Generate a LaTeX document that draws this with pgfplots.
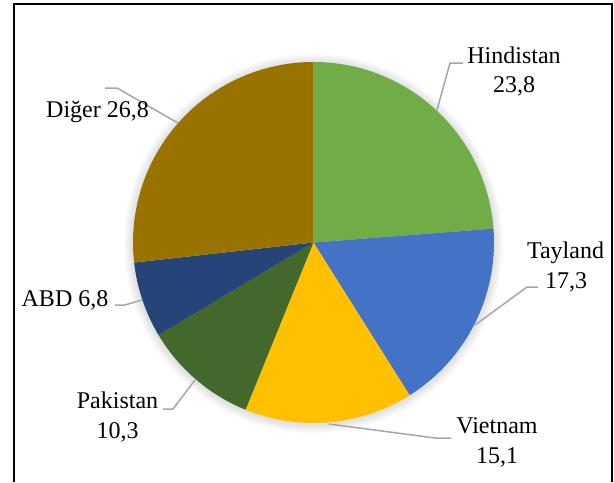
\documentclass[border=0pt]{standalone}
\usepackage{fontspec}
\setmainfont{Liberation Serif}
\usepackage{pgfplots}
\usepackage{pgfplotstable}
\pgfplotsset{compat=1.18}

\definecolor{c0}{HTML}{70AD47}
\definecolor{c1}{HTML}{4472C4}
\definecolor{c2}{HTML}{FFC000}
\definecolor{c3}{HTML}{43682B}
\definecolor{c4}{HTML}{264478}
\definecolor{c5}{HTML}{997300}
\definecolor{leader}{HTML}{A6A6A6}

% shares, clockwise from 12 o'clock
\pgfplotstableread{
label val
Hindistan 23.8
Tayland 17.3
Vietnam 15.1
Pakistan 10.3
ABD 6.8
Diger 26.8
}\pietab

\begin{document}
\begin{tikzpicture}[font=\fontsize{12}{14.4}\selectfont]
\begin{axis}[
    hide axis,
    scale only axis,
    width=307pt, height=241pt,
    xmin=0, xmax=614,
    ymin=0, ymax=482,
    y dir=reverse,
    clip=false,
]
\coordinate (A) at (axis cs:0,482);
\coordinate (B) at (axis cs:614,0);

% frame (bottom edge is cut off)
\draw[line width=0.9pt] (axis cs:14,482) -- (axis cs:14,4) -- (axis cs:612,4) -- (axis cs:612,482);

% soft shadow
\pgfplotsinvokeforeach{1,...,6}{
  \fill[black, opacity=0.02] (axis cs:313.5,243.5) circle[radius=90.25pt+#1*0.75pt];
}

% slices
\pgfplotstablegetrowsof{\pietab}
\pgfmathtruncatemacro\nrows{\pgfplotsretval-1}
\def\total{0}
\pgfplotsforeachungrouped \i in {0,...,\nrows}{%
  \pgfplotstablegetelem{\i}{val}\of\pietab
  \pgfmathsetmacro\total{\total+\pgfplotsretval}%
}
\def\angstart{90}
\pgfplotsforeachungrouped \i in {0,...,\nrows}{%
  \pgfplotstablegetelem{\i}{val}\of\pietab
  \pgfmathsetmacro\angend{\angstart-\pgfplotsretval*360/\total}%
  \edef\temp{\noexpand\fill[c\i] (axis cs:313.5,242.5) -- ++(\angstart:90.25pt)
    arc[start angle=\angstart, end angle=\angend, radius=90.25pt] -- cycle;}%
  \temp
  \global\let\angstart\angend
}

% leader lines
\draw[leader, line width=0.75pt] (axis cs:463,63) -- (axis cs:450,63) -- (axis cs:437,110);
\draw[leader, line width=0.75pt] (axis cs:538,287) -- (axis cs:527,287) -- (axis cs:475,325);
\draw[leader, line width=0.75pt] (axis cs:451,438) -- (axis cs:435,438) -- (axis cs:329,424);
\draw[leader, line width=0.75pt] (axis cs:163,409) -- (axis cs:173,409) -- (axis cs:195,380);
\draw[leader, line width=0.75pt] (axis cs:115,305) -- (axis cs:125,305) -- (axis cs:142,300);
\draw[leader, line width=0.75pt] (axis cs:105,88) -- (axis cs:117,88) -- (axis cs:178,123);

% labels
\node[anchor=base] at (axis cs:514,63) {Hindistan};
\node[anchor=base] at (axis cs:514,92) {23,8};
\node[anchor=base] at (axis cs:565.5,258) {Tayland};
\node[anchor=base] at (axis cs:566,288) {17,3};
\node[anchor=base] at (axis cs:497,433) {Vietnam};
\node[anchor=base] at (axis cs:497,463) {15,1};
\node[anchor=base] at (axis cs:117.5,408) {Pakistan};
\node[anchor=base] at (axis cs:117.5,438) {10,3};
\node[anchor=base] at (axis cs:65,306) {ABD 6,8};
\node[anchor=base] at (axis cs:97.5,117) {Diğer 26,8};
\end{axis}
\pgfresetboundingbox
\useasboundingbox (A) rectangle (B);
\end{tikzpicture}
\end{document}
